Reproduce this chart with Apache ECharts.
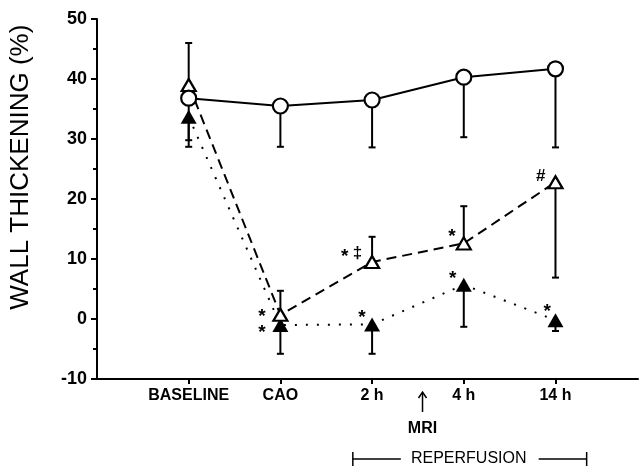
<!DOCTYPE html>
<html>
<head>
<meta charset="utf-8">
<script src="https://cdn.jsdelivr.net/npm/echarts@6/dist/echarts.min.js"></script>
<style>
html,body{margin:0;padding:0;background:#fff;}
#chart{width:640px;height:471px;}
</style>
</head>
<body>
<div id="chart"></div>
<script>
// ---- data ----
const categories = ['BASELINE', 'CAO', '2 h', '4 h', '14 h'];
const xPos = [1, 2, 3, 4, 5];
const yTicks = [-10, 0, 10, 20, 30, 40, 50];
const yTitle = 'WALL THICKENING (%)';

// open circles (solid line)
const circleMean = [36.8, 35.5, 36.5, 40.3, 41.7];
const circleErrEnd = [28.7, 28.7, 28.6, 30.3, 28.6];

// open triangles (dashed line)
const openTriMean = [39.0, 0.7, 9.5, 12.6, 22.8];
const openTriErrEnd = [46.0, 4.7, 13.7, 18.8, 6.9];

// filled triangles (dotted line)
const filledTriMean = [33.7, -1.0, -0.9, 5.7, -0.2];
const filledTriErrEnd = [29.8, -5.8, -5.8, -1.3, -2.0];

// significance marks
const markText = ['*', '*', '*', '\u2021', '*', '*', '*', '#', '*'];
const markX = [1.80, 1.80, 2.70, 2.84, 2.89, 3.87, 3.88, 4.84, 4.91];
const markY = [1.2, -1.5, 11.2, 11.0, 1.0, 14.5, 7.5, 23.8, 2.0];

const FONT = '"Liberation Sans", Arial, sans-serif';

function pairs(xs, ys) { return xs.map((x, i) => [x, ys[i]]); }
function errData(xs, m, e) { return xs.map((x, i) => [x, m[i], e[i]]); }

function errRender(params, api) {
  const x = api.value(0);
  const p0 = api.coord([x, api.value(1)]);
  const p1 = api.coord([x, api.value(2)]);
  const cap = 3.5;
  return {
    type: 'group',
    children: [
      { type: 'line', shape: { x1: p0[0], y1: p0[1], x2: p1[0], y2: p1[1] },
        style: { stroke: '#000', lineWidth: 2 } },
      { type: 'line', shape: { x1: p1[0] - cap, y1: p1[1], x2: p1[0] + cap, y2: p1[1] },
        style: { stroke: '#000', lineWidth: 2 } }
    ]
  };
}

function markRender(params, api) {
  const i = params.dataIndex;
  const p = api.coord([api.value(0), api.value(1)]);
  const t = markText[i];
  const isStar = t === '*';
  return {
    type: 'text',
    x: p[0], y: p[1] + (isStar ? 5 : 0),
    style: {
      text: t, fill: '#000',
      font: 'bold ' + (isStar ? 19 : 17) + 'px ' + FONT,
      align: 'center', verticalAlign: 'middle'
    }
  };
}

const chart = echarts.init(document.getElementById('chart'), null, { renderer: 'canvas' });

const option = {
  backgroundColor: '#fff',
  animation: false,
  grid: { left: 97, right: 2, top: 19, bottom: 92, containLabel: false },
  xAxis: {
    type: 'value', min: 0, max: 5.9, interval: 1,
    splitLine: { show: false },
    axisLine: { show: true, onZero: false, lineStyle: { color: '#000', width: 2 } },
    axisTick: { show: true, length: 5, inside: false, customValues: xPos,
      lineStyle: { color: '#000', width: 2 } },
    axisLabel: {
      customValues: xPos,
      formatter: v => categories[Math.round(v) - 1] || '',
      color: '#000', fontFamily: FONT, fontWeight: 'bold', fontSize: 16, margin: 9
    }
  },
  yAxis: {
    type: 'value', min: -10, max: 50, interval: 10,
    splitLine: { show: false },
    axisLine: { show: true, onZero: false, lineStyle: { color: '#000', width: 2 } },
    axisTick: { show: true, length: 6, lineStyle: { color: '#000', width: 2 } },
    minorTick: { show: true, splitNumber: 2, length: 4, lineStyle: { color: '#000', width: 2 } },
    axisLabel: {
      customValues: yTicks,
      color: '#000', fontFamily: FONT, fontWeight: 'bold', fontSize: 18, margin: 10
    }
  },
  series: [
    { type: 'custom', name: 'errCircle', renderItem: errRender, z: 1,
      data: errData(xPos, circleMean, circleErrEnd), encode: { x: 0, y: [1, 2] } },
    { type: 'custom', name: 'errOpen', renderItem: errRender, z: 1,
      data: errData(xPos, openTriMean, openTriErrEnd), encode: { x: 0, y: [1, 2] } },
    { type: 'custom', name: 'errFilled', renderItem: errRender, z: 1,
      data: errData(xPos, filledTriMean, filledTriErrEnd), encode: { x: 0, y: [1, 2] } },
    { type: 'line', name: 'filled', z: 2, data: pairs(xPos, filledTriMean),
      symbol: 'triangle', symbolSize: [16, 14], showAllSymbol: true,
      itemStyle: { color: '#000', borderWidth: 0 },
      lineStyle: { color: '#000', width: 2, type: [2, 9] } },
    { type: 'line', name: 'open', z: 2, data: pairs(xPos, openTriMean),
      symbol: 'triangle', symbolSize: [14, 12], showAllSymbol: true,
      itemStyle: { color: '#fff', borderColor: '#000', borderWidth: 2.2 },
      lineStyle: { color: '#000', width: 2, type: [10, 6] } },
    { type: 'line', name: 'circle', z: 2, data: pairs(xPos, circleMean),
      symbol: 'circle', symbolSize: 15, showAllSymbol: true,
      itemStyle: { color: '#fff', borderColor: '#000', borderWidth: 2.2 },
      lineStyle: { color: '#000', width: 2, type: 'solid' } },
    { type: 'custom', name: 'marks', renderItem: markRender, z: 4,
      data: pairs(markX, markY), encode: { x: 0, y: 1 } }
  ]
};
chart.setOption(option);

// annotation under the axis: MRI arrow and reperfusion bracket; y-axis title
const mriX = chart.convertToPixel({ gridIndex: 0 }, [3.55, 0])[0];
const repL = chart.convertToPixel({ gridIndex: 0 }, [2.79, 0])[0];
const repR = chart.convertToPixel({ gridIndex: 0 }, [5.34, 0])[0];
const axisY = chart.convertToPixel({ gridIndex: 0 }, [0, -10])[1];
const titleY = chart.convertToPixel({ gridIndex: 0 }, [0, 25.3])[1];
const repY = axisY + 80;
const textL = repL + 57, textR = repR - 59;
chart.setOption({
  graphic: [
    { type: 'text', x: 21, y: titleY, rotation: Math.PI / 2,
      style: { text: yTitle, font: '26px ' + FONT, fill: '#000', align: 'center', verticalAlign: 'middle' } },
    { type: 'line', shape: { x1: mriX, y1: axisY + 14, x2: mriX, y2: axisY + 33 },
      style: { stroke: '#000', lineWidth: 1.5 } },
    { type: 'polyline', shape: { points: [[mriX - 4, axisY + 19], [mriX, axisY + 13], [mriX + 4, axisY + 19]] },
      style: { stroke: '#000', lineWidth: 1.5, fill: null } },
    { type: 'text', x: mriX, y: axisY + 50,
      style: { text: 'MRI', font: 'bold 16px ' + FONT, fill: '#000', align: 'center', verticalAlign: 'middle' } },
    { type: 'text', x: (textL + textR) / 2, y: repY,
      style: { text: 'REPERFUSION', font: '16px ' + FONT, fill: '#000', align: 'center', verticalAlign: 'middle' } },
    { type: 'line', shape: { x1: repL, y1: repY, x2: textL - 9, y2: repY }, style: { stroke: '#000', lineWidth: 1.5 } },
    { type: 'line', shape: { x1: repL, y1: repY - 7, x2: repL, y2: repY + 7 }, style: { stroke: '#000', lineWidth: 1.5 } },
    { type: 'line', shape: { x1: textR + 11, y1: repY, x2: repR, y2: repY }, style: { stroke: '#000', lineWidth: 1.5 } },
    { type: 'line', shape: { x1: repR, y1: repY - 7, x2: repR, y2: repY + 7 }, style: { stroke: '#000', lineWidth: 1.5 } }
  ]
});
</script>
</body>
</html>
